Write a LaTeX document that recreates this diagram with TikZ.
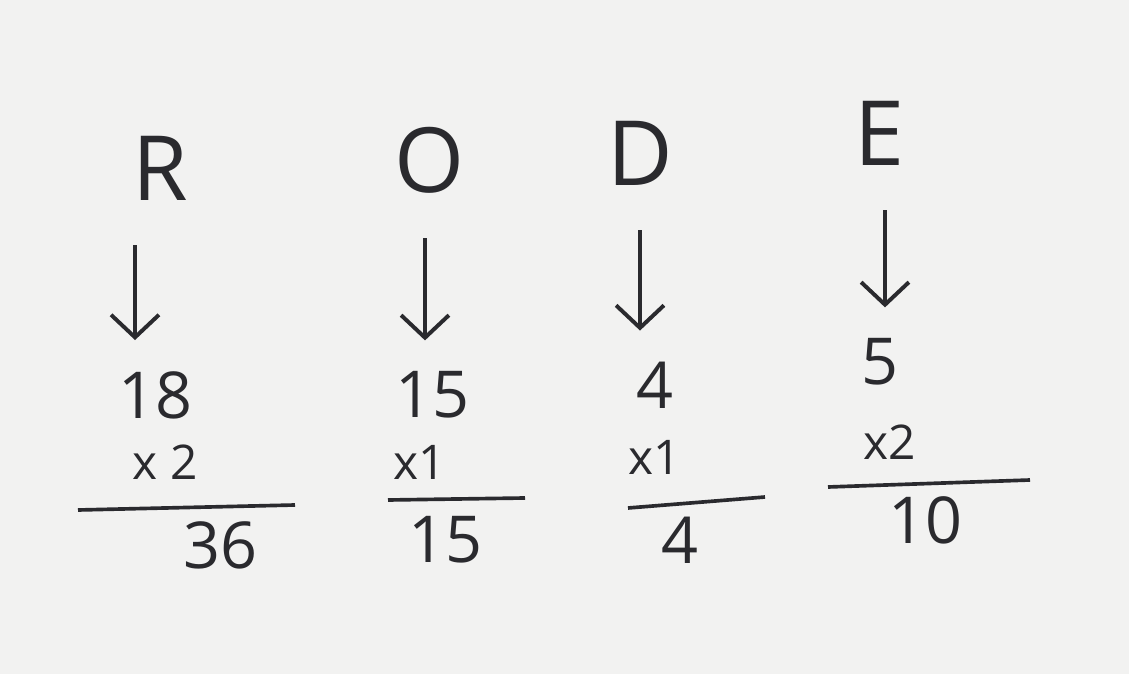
\documentclass[tikz,border=0pt]{standalone}
\usepackage{fontspec}
\setmainfont{Open Sans}
\usetikzlibrary{arrows.meta}
\definecolor{paper}{RGB}{242,242,241}
\definecolor{ink}{RGB}{42,42,46}

\begin{document}
\begin{tikzpicture}[x=0.025cm,y=-0.025cm,>={Straight Barb[length=16pt,width=34pt]}]
  \tikzstyle{letter}=[text=ink,font=\fontsize{64}{70}\selectfont,inner sep=0pt]
  \tikzstyle{num}=[text=ink,font=\fontsize{46}{52}\selectfont,inner sep=0pt]
  \tikzstyle{mult}=[text=ink,font=\fontsize{34}{40}\selectfont,inner sep=0pt]
  \tikzstyle{down}=[->,ink,line width=2.8pt,shorten <=32pt,shorten >=22pt]
  \tikzstyle{bar}=[ink,line width=2.6pt]
  \fill[paper] (0,0) rectangle (1129,674);

  \node[letter] (r) at (160,168) {R};
  \node[letter] (o) at (430,160) {O};
  \node[letter] (d) at (640,153) {D};
  \node[letter] (e) at (880,133) {E};

  \node[num] (n18) at (155,395) {18};
  \node[num] (n15) at (432,395) {15};
  \node[num] (n4) at (655,385) {4};
  \node[num] (n5) at (880,362) {5};

  \draw[down] (r.south -| 135,0) -- (n18.north -| 135,0);
  \draw[down] (o.south -| 425,0) -- (n15.north -| 425,0);
  \draw[down] (d.south -| 640,0) -- (n4.north -| 640,0);
  \draw[down] (e.south -| 885,0) -- (n5.north -| 885,0);

  \node[mult] (m1) at (165,462) {x 2};
  \node[mult] (m2) at (420,462) {x1};
  \node[mult] (m3) at (655,457) {x1};
  \node[mult] (m4) at (890,442) {x2};

  \draw[bar] (78,510) -- (295,505);
  \draw[bar] (388,500) -- (525,498);
  \draw[bar] (628,508) -- (765,497);
  \draw[bar] (828,487) -- (1030,480);

  \node[num] (p1) at (220,545) {36};
  \node[num] (p2) at (445,540) {15};
  \node[num] (p3) at (680,540) {4};
  \node[num] (p4) at (925,520) {10};
\end{tikzpicture}
\end{document}
